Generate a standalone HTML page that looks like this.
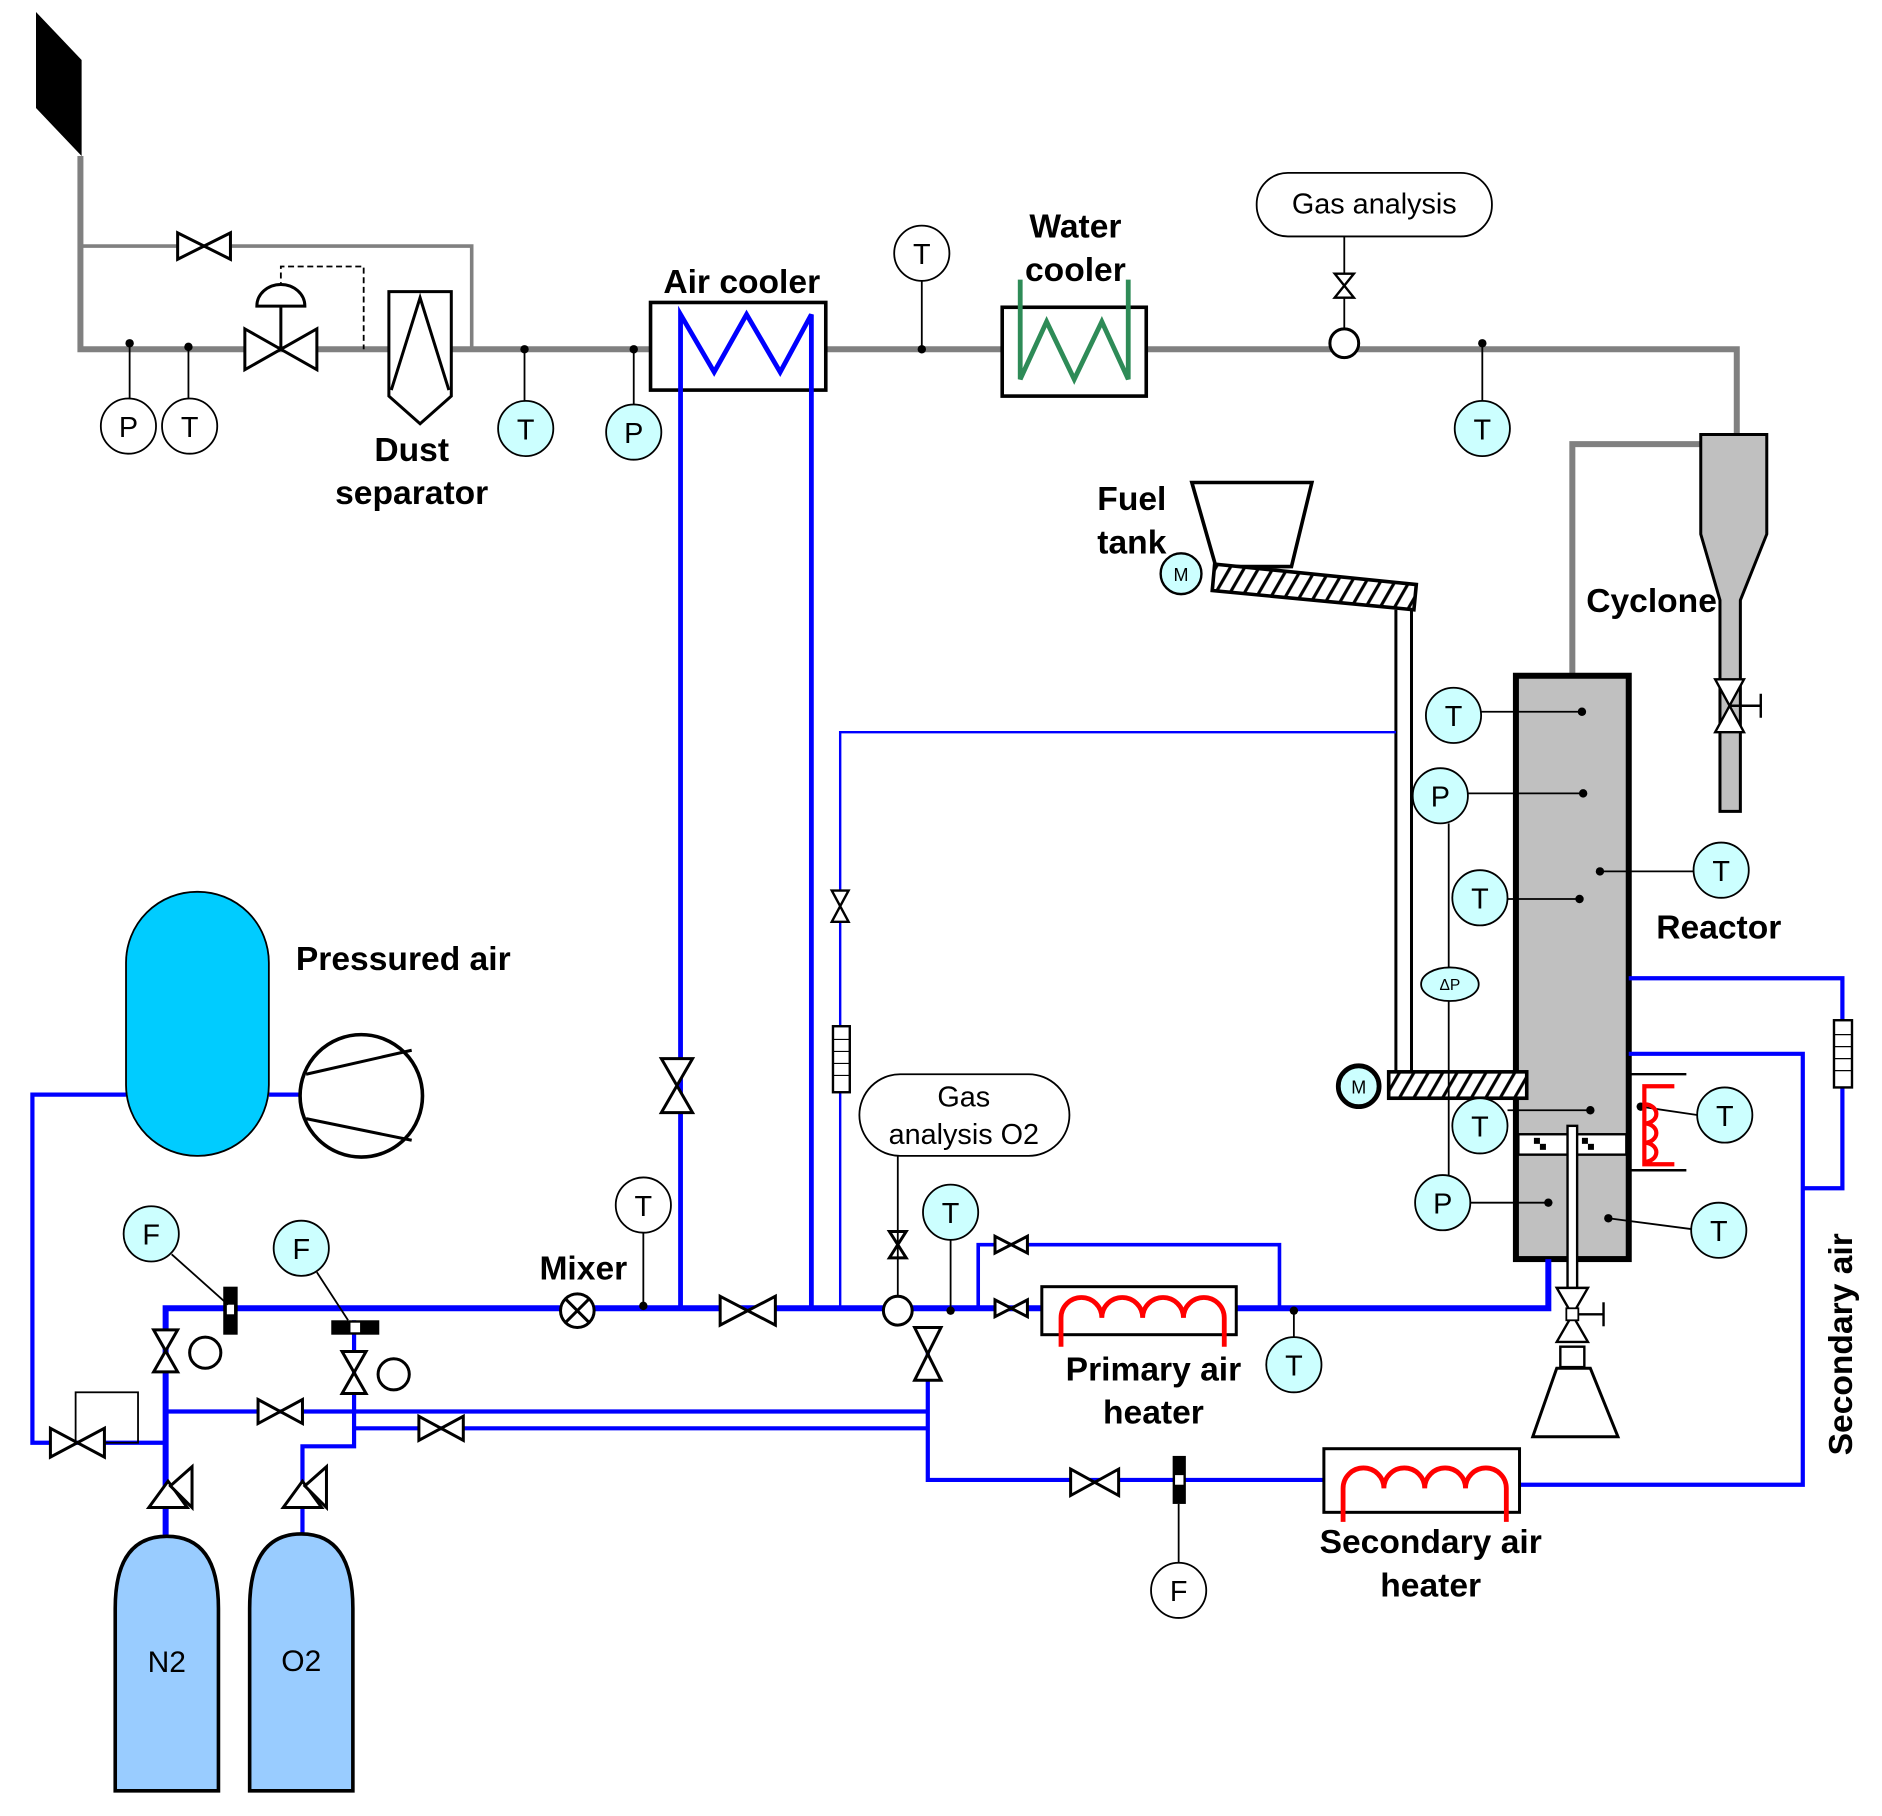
<!DOCTYPE html>
<html><head><meta charset="utf-8"><style>
html,body{margin:0;padding:0;background:#fff}
svg{display:block}
text{font-family:"Liberation Sans",Arial,sans-serif}
.b{font-weight:bold;font-size:28px}
.s{font-size:24px}
</style></head><body>
<svg width="1882" height="1816" viewBox="0 0 1568 1513" xmlns="http://www.w3.org/2000/svg">
<defs>
<pattern id="hat" width="12" height="22" patternUnits="userSpaceOnUse" patternTransform="skewX(-30)"><rect width="12" height="22" fill="#fff"/><line x1="2" y1="0" x2="2" y2="22" stroke="#000" stroke-width="3"/></pattern>
</defs>
<polygon points="30,10 68,50 68,130 30,90" fill="#000"/>
<g fill="none" stroke="#808080">
<polyline points="67,130 67,291 1447,291 1447,362" stroke-width="5"/>
<polyline points="67,205 393,205 393,291" stroke-width="3"/>
<polyline points="1417,370 1310,370 1310,563" stroke-width="5"/>
</g>
<path d="M234,272 V222 H303 V291" fill="none" stroke="#000" stroke-width="1.5" stroke-dasharray="5,3"/>
<g stroke="#000" stroke-width="2.5" fill="#fff">
<path d="M148,194 L192,216 L192,194 L148,216 Z"/>
<path d="M204,274 L264,308 L264,274 L204,308 Z"/>
<line x1="234" y1="291" x2="234" y2="255"/>
<path d="M214,255 A20,18 0 0 1 254,255 Z"/>
<path d="M324,243 H376 V330 L350,353 L324,330 Z"/>
<path d="M326,325 L350,248 L374,325" fill="none"/>
</g>
<g stroke="#000" stroke-width="1.5">
<line x1="108" y1="286" x2="108" y2="332"/><line x1="157" y1="289" x2="157" y2="332"/>
<line x1="437" y1="291" x2="437" y2="334"/><line x1="528" y1="291" x2="528" y2="337"/>
<line x1="768" y1="234" x2="768" y2="291"/><line x1="1235" y1="286" x2="1235" y2="334"/>
<line x1="1120" y1="197" x2="1120" y2="274"/>
</g>
<g fill="#000"><circle cx="108" cy="286" r="3.5"/><circle cx="157" cy="289" r="3.5"/><circle cx="437" cy="291" r="3.5"/><circle cx="528" cy="291" r="3.5"/><circle cx="768" cy="291" r="3.5"/><circle cx="1235" cy="286" r="3.5"/></g>
<g stroke="#000" stroke-width="1.5" fill="#fff">
<circle cx="107" cy="355" r="23"/><circle cx="158" cy="355" r="23"/><circle cx="768" cy="211" r="23"/>
</g>
<g stroke="#000" stroke-width="1.5" fill="#ccffff">
<circle cx="438" cy="357" r="23"/><circle cx="528" cy="360" r="23"/><circle cx="1235" cy="357" r="23"/>
</g>
<g class="s" text-anchor="middle"><text x="107" y="364">P</text><text x="158" y="364">T</text><text x="768" y="220">T</text><text x="438" y="366">T</text><text x="528" y="369">P</text><text x="1235" y="366">T</text></g>
<rect x="542" y="252" width="146" height="73" fill="#fff" stroke="#000" stroke-width="3"/>
<g fill="none" stroke="#0000ff" stroke-width="4">
<polyline points="567,1090 567,262 595,310 622,262 650,310 676,262 676,1090"/>
</g>
<rect x="835" y="256" width="120" height="74" fill="#fff" stroke="#000" stroke-width="3"/>
<polyline points="850,233 850,316 872,268 895,316 918,268 940,316 940,233" fill="none" stroke="#2e8b57" stroke-width="4"/>
<rect x="1047" y="144" width="196" height="53" rx="26" fill="#fff" stroke="#000" stroke-width="1.5"/>
<text x="1145" y="178" class="s" text-anchor="middle" font-size="25">Gas analysis</text>
<path d="M1112,228 L1128,248 L1112,248 L1128,228 Z" fill="#fff" stroke="#000" stroke-width="2"/>
<circle cx="1120" cy="286" r="12" fill="#fff" stroke="#000" stroke-width="2.5"/>
<path d="M1417,362 H1472 V445 L1450,500 V676 H1433 V500 L1417,445 Z" fill="#c0c0c0" stroke="#000" stroke-width="2.5"/>
<path d="M1429,566 L1453,610 L1429,610 L1453,566 Z" fill="#fff" stroke="#000" stroke-width="2"/>
<line x1="1441" y1="588" x2="1467" y2="588" stroke="#000" stroke-width="2"/><line x1="1467" y1="578" x2="1467" y2="598" stroke="#000" stroke-width="2"/>
<polygon points="993,402 1093,402 1076,472 1013,472" fill="#fff" stroke="#000" stroke-width="3"/>
<polygon points="1012,470 1180,487 1178,508 1010,492" fill="url(#hat)" stroke="#000" stroke-width="3"/>
<circle cx="984" cy="478" r="17" fill="#ccffff" stroke="#000" stroke-width="2"/>
<text x="984" y="484" font-size="15" text-anchor="middle">M</text>
<g stroke="#000" stroke-width="2.5"><line x1="1163" y1="508" x2="1163" y2="895"/><line x1="1176" y1="508" x2="1176" y2="895"/></g>
<polyline points="1163,610 700,610 700,1090" fill="none" stroke="#0000ff" stroke-width="2"/>
<path d="M693,742 L707,768 L693,768 L707,742 Z" fill="#fff" stroke="#000" stroke-width="2"/>
<rect x="694" y="855" width="14" height="55" fill="#fff" stroke="#000" stroke-width="2"/>
<g stroke="#000" stroke-width="1"><line x1="694" y1="866" x2="708" y2="866"/><line x1="694" y1="876" x2="708" y2="876"/><line x1="694" y1="886" x2="708" y2="886"/><line x1="694" y1="896" x2="708" y2="896"/></g>
<rect x="1263" y="563" width="94" height="486" fill="#c0c0c0" stroke="#000" stroke-width="5"/>
<rect x="1265" y="945" width="90" height="17" fill="#fff" stroke="#000" stroke-width="2"/>
<g fill="#000"><rect x="1278" y="948" width="5" height="5"/><rect x="1283" y="953" width="5" height="5"/><rect x="1318" y="948" width="5" height="5"/><rect x="1323" y="953" width="5" height="5"/></g>
<rect x="1157" y="893" width="115" height="22" fill="url(#hat)" stroke="#000" stroke-width="3"/>
<circle cx="1132" cy="905" r="17" fill="#ccffff" stroke="#000" stroke-width="4"/>
<text x="1132" y="911" font-size="15" text-anchor="middle">M</text>
<g stroke="#000" stroke-width="1.5">
<line x1="1234" y1="593" x2="1318" y2="593"/><line x1="1223" y1="661" x2="1319" y2="661"/><line x1="1256" y1="749" x2="1316" y2="749"/>
<line x1="1333" y1="726" x2="1411" y2="726"/><line x1="1207" y1="686" x2="1207" y2="979"/>
<line x1="1256" y1="925" x2="1325" y2="925"/><line x1="1367" y1="922" x2="1414" y2="929"/>
<line x1="1225" y1="1002" x2="1290" y2="1002"/><line x1="1340" y1="1015" x2="1409" y2="1024"/>
</g>
<g fill="#000"><circle cx="1318" cy="593" r="3.5"/><circle cx="1319" cy="661" r="3.5"/><circle cx="1316" cy="749" r="3.5"/><circle cx="1333" cy="726" r="3.5"/><circle cx="1325" cy="925" r="3.5"/><circle cx="1367" cy="922" r="3.5"/><circle cx="1290" cy="1002" r="3.5"/><circle cx="1340" cy="1015" r="3.5"/></g>
<g stroke="#000" stroke-width="1.5" fill="#ccffff">
<circle cx="1211" cy="596" r="23"/><circle cx="1200" cy="663" r="23"/><circle cx="1233" cy="748" r="23"/><circle cx="1434" cy="725" r="23"/>
<circle cx="1233" cy="938" r="23"/><circle cx="1437" cy="929" r="23"/><circle cx="1202" cy="1002" r="23"/><circle cx="1432" cy="1025" r="23"/>
<ellipse cx="1208" cy="820" rx="24" ry="14"/>
</g>
<g class="s" text-anchor="middle"><text x="1211" y="605">T</text><text x="1200" y="672">P</text><text x="1233" y="757">T</text><text x="1434" y="734">T</text><text x="1233" y="947">T</text><text x="1437" y="938">T</text><text x="1202" y="1011">P</text><text x="1432" y="1034">T</text></g>
<text x="1208" y="825" font-size="13" text-anchor="middle">ΔP</text>
<g stroke="#000" stroke-width="2"><line x1="1357" y1="895" x2="1405" y2="895"/><line x1="1357" y1="975" x2="1405" y2="975"/></g>
<path d="M1395,905 H1370 V970 H1395 M1370,920 A10,8 0 0 1 1370,936 M1370,936 A10,8 0 0 1 1370,952 M1370,952 A10,8 0 0 1 1370,968" fill="none" stroke="#ff0000" stroke-width="3.5"/>
<g fill="none" stroke="#0000ff" stroke-width="3.5">
<polyline points="1357,815 1535,815 1535,990 1502,990"/>
<polyline points="1357,878 1502,878 1502,1237 1267,1237"/>
</g>
<rect x="1528" y="850" width="15" height="56" fill="#fff" stroke="#000" stroke-width="2"/>
<g stroke="#000" stroke-width="1"><line x1="1528" y1="862" x2="1543" y2="862"/><line x1="1528" y1="872" x2="1543" y2="872"/><line x1="1528" y1="882" x2="1543" y2="882"/><line x1="1528" y1="892" x2="1543" y2="892"/></g>
<text class="b" transform="translate(1543,1120) rotate(-90)" text-anchor="middle" font-size="26">Secondary air</text>
<rect x="1306" y="938" width="8" height="140" fill="#fff" stroke="#000" stroke-width="2"/>
<path d="M1297,1073 L1323,1118 L1297,1118 L1323,1073 Z" fill="#fff" stroke="#000" stroke-width="2"/>
<rect x="1305" y="1090" width="10" height="10" fill="#fff" stroke="#000" stroke-width="1.5"/>
<line x1="1315" y1="1095" x2="1336" y2="1095" stroke="#000" stroke-width="2"/><line x1="1336" y1="1085" x2="1336" y2="1105" stroke="#000" stroke-width="2"/>
<rect x="1300" y="1122" width="20" height="17" fill="#fff" stroke="#000" stroke-width="2"/>
<polygon points="1297,1140 1325,1140 1348,1197 1277,1197" fill="#fff" stroke="#000" stroke-width="2.5"/>
<g fill="none" stroke="#0000ff">
<polyline points="138,1280 138,1090 1290,1090 1290,1049" stroke-width="5"/>
<polyline points="815,1090 815,1037 1066,1037 1066,1090" stroke-width="3"/>
<polyline points="773,1105 773,1233 1103,1233" stroke-width="3.5"/>
<polyline points="138,1176 773,1176" stroke-width="3.5"/>
<polyline points="295,1190 773,1190" stroke-width="3.5"/>
<polyline points="295,1100 295,1205 252,1205 252,1280" stroke-width="3.5"/>
<polyline points="105,912 27,912 27,1202 138,1202" stroke-width="3.5"/>
<polyline points="224,912 250,912" stroke-width="3.5"/>
</g>
<rect x="63" y="1160" width="52" height="42" fill="none" stroke="#000" stroke-width="1.5"/>
<g stroke="#000" stroke-width="2.5" fill="#fff">
<path d="M600,1080 L646,1104 L646,1080 L600,1104 Z"/>
<path d="M551,882 L577,927 L551,927 L577,882 Z"/>
<path d="M829,1030 L856,1044 L856,1030 L829,1044 Z"/>
<path d="M829,1083 L856,1097 L856,1083 L829,1097 Z"/>
<path d="M741,1026 L755,1048 L741,1048 L755,1026 Z"/>
<path d="M762,1106 L784,1150 L762,1150 L784,1106 Z"/>
<path d="M892,1224 L932,1246 L932,1224 L892,1246 Z"/>
<path d="M215,1166 L252,1186 L252,1166 L215,1186 Z"/>
<path d="M349,1180 L386,1200 L386,1180 L349,1200 Z"/>
<path d="M42,1190 L87,1214 L87,1190 L42,1214 Z"/>
<path d="M128,1108 L148,1143 L128,1143 L148,1108 Z"/>
<path d="M285,1126 L305,1161 L285,1161 L305,1126 Z"/>
<circle cx="171" cy="1127" r="13"/><circle cx="328" cy="1145" r="13"/>
<circle cx="748" cy="1092" r="12"/>
<circle cx="481" cy="1092" r="14"/>
</g>
<g stroke="#000" stroke-width="2.5"><line x1="471" y1="1082" x2="491" y2="1102"/><line x1="491" y1="1082" x2="471" y2="1102"/></g>
<g stroke="#000" stroke-width="2.5" fill="#fff">
<path d="M124,1256 L140,1234 L156,1256 Z"/><path d="M142,1238 L160,1222 L160,1256 Z"/>
<path d="M236,1256 L252,1234 L268,1256 Z"/><path d="M254,1238 L272,1222 L272,1256 Z"/>
</g>
<rect x="186" y="1072" width="12" height="40" fill="#000"/><rect x="189" y="1087" width="6" height="8" fill="#fff"/>
<rect x="276" y="1100" width="40" height="12" fill="#000"/><rect x="292" y="1102" width="8" height="8" fill="#fff"/>
<rect x="977" y="1213" width="11" height="40" fill="#000"/><rect x="979" y="1229" width="7" height="8" fill="#fff"/>
<g stroke="#000" stroke-width="1.5">
<line x1="143" y1="1045" x2="190" y2="1087"/><line x1="264" y1="1060" x2="290" y2="1100"/>
<line x1="536" y1="1027" x2="536" y2="1088"/><line x1="748" y1="963" x2="748" y2="1080"/>
<line x1="792" y1="1033" x2="792" y2="1092"/><line x1="1078" y1="1092" x2="1078" y2="1114"/>
<line x1="982" y1="1253" x2="982" y2="1302"/>
</g>
<g fill="#000"><circle cx="536" cy="1088" r="3.5"/><circle cx="792" cy="1092" r="3.5"/><circle cx="1078" cy="1092" r="3.5"/></g>
<g stroke="#000" stroke-width="1.5" fill="#ccffff">
<circle cx="126" cy="1028" r="23"/><circle cx="251" cy="1040" r="23"/><circle cx="792" cy="1010" r="23"/><circle cx="1078" cy="1137" r="23"/>
</g>
<g stroke="#000" stroke-width="1.5" fill="#fff"><circle cx="536" cy="1004" r="23"/><circle cx="982" cy="1325" r="23"/></g>
<g class="s" text-anchor="middle"><text x="126" y="1037">F</text><text x="251" y="1049">F</text><text x="792" y="1019">T</text><text x="1078" y="1146">T</text><text x="536" y="1013">T</text><text x="982" y="1334">F</text></g>
<rect x="716" y="895" width="175" height="68" rx="34" fill="#fff" stroke="#000" stroke-width="1.5"/>
<text x="803" y="922" class="s" text-anchor="middle" font-size="25">Gas</text>
<text x="803" y="953" class="s" text-anchor="middle" font-size="25">analysis O2</text>
<rect x="868" y="1072" width="162" height="40" fill="#fff" stroke="#000" stroke-width="2.5"/>
<path d="M884,1122 V1098 A17,17 0 0 1 918,1098 A17,17 0 0 1 952,1098 A17,17 0 0 1 986,1098 A17,17 0 0 1 1020,1098 V1122" fill="none" stroke="#ff0000" stroke-width="4"/>
<rect x="1103" y="1207" width="163" height="53" fill="#fff" stroke="#000" stroke-width="2.5"/>
<path d="M1119,1268 V1240 A17,17 0 0 1 1153,1240 A17,17 0 0 1 1187,1240 A17,17 0 0 1 1221,1240 A17,17 0 0 1 1255,1240 V1268" fill="none" stroke="#ff0000" stroke-width="4"/>
<rect x="105" y="743" width="119" height="220" rx="59" fill="#00ccff" stroke="#000" stroke-width="1.5"/>
<circle cx="301" cy="913" r="51" fill="#fff" stroke="#000" stroke-width="3"/>
<g stroke="#000" stroke-width="2.5"><line x1="255" y1="895" x2="343" y2="875"/><line x1="255" y1="932" x2="343" y2="950"/></g>
<path d="M96,1492 V1340 Q96,1280 139,1280 Q182,1280 182,1340 V1492 Z" fill="#99ccff" stroke="#000" stroke-width="3"/>
<path d="M208,1492 V1340 Q208,1278 251,1278 Q294,1278 294,1340 V1492 Z" fill="#99ccff" stroke="#000" stroke-width="3"/>
<text x="139" y="1393" font-size="25" text-anchor="middle">N2</text>
<text x="251" y="1392" font-size="25" text-anchor="middle">O2</text>
<g class="b" text-anchor="middle">
<text x="343" y="384">Dust</text><text x="343" y="420">separator</text>
<text x="618" y="244">Air cooler</text>
<text x="896" y="198">Water</text><text x="896" y="234">cooler</text>
<text x="943" y="425">Fuel</text><text x="943" y="461">tank</text>
<text x="1376" y="510">Cyclone</text>
<text x="1432" y="782">Reactor</text>
<text x="336" y="808">Pressured air</text>
<text x="486" y="1066">Mixer</text>
<text x="961" y="1150">Primary air</text><text x="961" y="1186">heater</text>
<text x="1192" y="1294">Secondary air</text><text x="1192" y="1330">heater</text>
</g>
</svg>
</body></html>
